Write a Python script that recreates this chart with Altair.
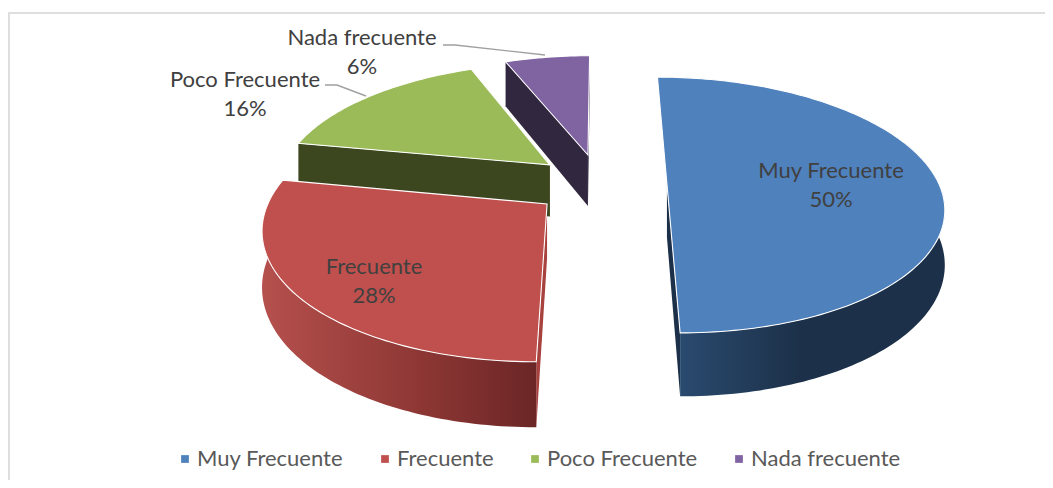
import math
import altair as alt

categories = ["Muy Frecuente", "Frecuente", "Poco Frecuente", "Nada frecuente"]
shares = [50, 28, 16, 6]
top_colors = ["#4f81bd", "#c0504d", "#9bbb59", "#8064a2"]
side_colors = ["#1c3149", "#a8423f", "#3c4720", "#31273f"]

# camera of the tilted pie, in page pixels
K, C, Y0, X0, AX, EXPL, DEPTH = 0.165, -94.05, 183.9, 600.0, 272.0, 0.246, 53.0
FONT = "Lato"


def project(u, v):
    w = 1 + K * v
    return X0 + AX * u / w, (Y0 + C * v) / w


def drop(u, v):
    x, y = project(u, v)
    return x, y + DEPTH / (1 + K * v)


def geo(points, name):
    pts = [list(p) for p in points]
    pts.append(pts[0])
    return {"type": "Feature", "properties": {"label": name},
            "geometry": {"type": "Polygon", "coordinates": [pts]}}


def shape(features, **mark):
    return alt.Chart(alt.Data(values=features)).mark_geoshape(**mark).project(
        type="identity", scale=1, translate=[-8, -8])


slices = []
cum = 0.0
for name, share in zip(categories, shares):
    a0 = cum / 100 * 2 * math.pi
    a1 = (cum + share) / 100 * 2 * math.pi
    mid = (a0 + a1) / 2
    cu, cv = EXPL * math.sin(mid), EXPL * math.cos(mid)
    n = max(8, int(share * 3))
    arc = [(cu + math.sin(a0 + (a1 - a0) * i / n), cv + math.cos(a0 + (a1 - a0) * i / n)) for i in range(n + 1)]
    slices.append({"name": name, "c": (cu, cv), "arc": arc})
    cum += share


def top(s):
    return geo([project(*s["c"])] + [project(*p) for p in s["arc"]], s["name"])


def radial_wall(s, p):
    return geo([project(*s["c"]), project(*p), drop(*p), drop(*s["c"])], s["name"])


def outer_wall(s):
    arc = [p for p in s["arc"] if p[1] < s["c"][1] + 0.35]
    return geo([project(*p) for p in arc] + [drop(*p) for p in reversed(arc)], s["name"])


def grad(stops):
    return alt.Gradient(gradient="linear", x1=0, x2=1, y1=0, y2=0,
                        stops=[alt.GradientStop(color=c, offset=o) for c, o in stops])


color = alt.Color(
    "properties.label:N",
    scale=alt.Scale(domain=categories, range=top_colors),
    legend=alt.Legend(
        orient="none", direction="horizontal", columns=4, title=None,
        legendX=166, legendY=440, symbolType="square", symbolSize=60, symbolStrokeWidth=0,
        labelFont=FONT, labelFontSize=22, labelFontWeight="normal", labelColor="#595959", labelOffset=1,
        columnPadding=30, labelLimit=300, symbolOffset=0,
    ),
)

blue, red, green, purple = slices
layers = []
xs = alt.Scale(domain=[8, 1045], nice=False, zero=False)
ys = alt.Scale(domain=[8, 480], reverse=True, nice=False, zero=False)
# frame: only the left and top edges show in the reference
frame_edges = [
    {"x": 9, "x2": 9, "y": 13, "y2": 480},
    {"x": 8, "x2": 1045, "y": 13, "y2": 13},
]
frame = alt.Chart(alt.Data(values=frame_edges)).mark_rule(color="#dedede", strokeWidth=2).encode(
    x=alt.X("x:Q", scale=xs, axis=None),
    x2="x2:Q",
    y=alt.Y("y:Q", scale=ys, axis=None),
    y2="y2:Q",
)
layers.append(frame)

seam = dict(stroke="white", strokeWidth=1.1)
# purple (back)
layers.append(shape([radial_wall(purple, purple["arc"][0]), radial_wall(purple, purple["arc"][-1])], fill=side_colors[3]))
layers.append(shape([top(purple)]).mark_geoshape(**seam).encode(color=color))
# green
layers.append(shape([radial_wall(green, green["arc"][0]), radial_wall(green, green["arc"][-1])], fill=side_colors[2]))
layers.append(shape([top(green)]).mark_geoshape(**seam).encode(color=color))
# red
layers.append(shape([radial_wall(red, red["arc"][0])], fill=side_colors[1]))
layers.append(shape([outer_wall(red)], fill=grad([("#b5504d", 0), ("#8f3835", 0.55), ("#6b2626", 1)])))
layers.append(shape([top(red)]).mark_geoshape(**seam).encode(color=color))
# blue
layers.append(shape([radial_wall(blue, blue["arc"][-1])], fill=side_colors[0]))
layers.append(shape([outer_wall(blue)], fill=grad([("#2a4a6f", 0), ("#1c3149", 0.45), ("#1c3149", 1)])))
layers.append(shape([top(blue)]).mark_geoshape(**seam).encode(color=color))

# slice labels
labels = [
    {"t": f"{categories[0]}\n{shares[0]}%", "x": 831, "y": 171},
    {"t": f"{categories[1]}\n{shares[1]}%", "x": 374, "y": 267},
    {"t": f"{categories[2]}\n{shares[2]}%", "x": 245, "y": 80},
    {"t": f"{categories[3]}\n{shares[3]}%", "x": 362, "y": 38},
]
layers.append(
    alt.Chart(alt.Data(values=labels)).mark_text(
        font=FONT, fontSize=22, lineBreak="\n", lineHeight=29, baseline="middle", align="center",
        color="#404040",
    ).encode(x="x:Q", y="y:Q", text="t:N")
)

# leader lines
leaders = [
    {"k": "a", "x": 325, "y": 85}, {"k": "a", "x": 337, "y": 85}, {"k": "a", "x": 366, "y": 96},
    {"k": "b", "x": 443, "y": 45}, {"k": "b", "x": 455, "y": 45}, {"k": "b", "x": 545, "y": 55},
]
layers.append(
    alt.Chart(alt.Data(values=leaders)).mark_line(color="#a0a0a0", strokeWidth=1.4).encode(
        x="x:Q", y="y:Q", detail="k:N"
    )
)

chart = alt.layer(*layers).properties(
    width=1037, height=472, padding=0, autosize=alt.AutoSizeParams(type="none"),
    background="white",
).configure_view(stroke=None)

chart.save("out.html", embed_options={"renderer": "svg", "actions": False})
